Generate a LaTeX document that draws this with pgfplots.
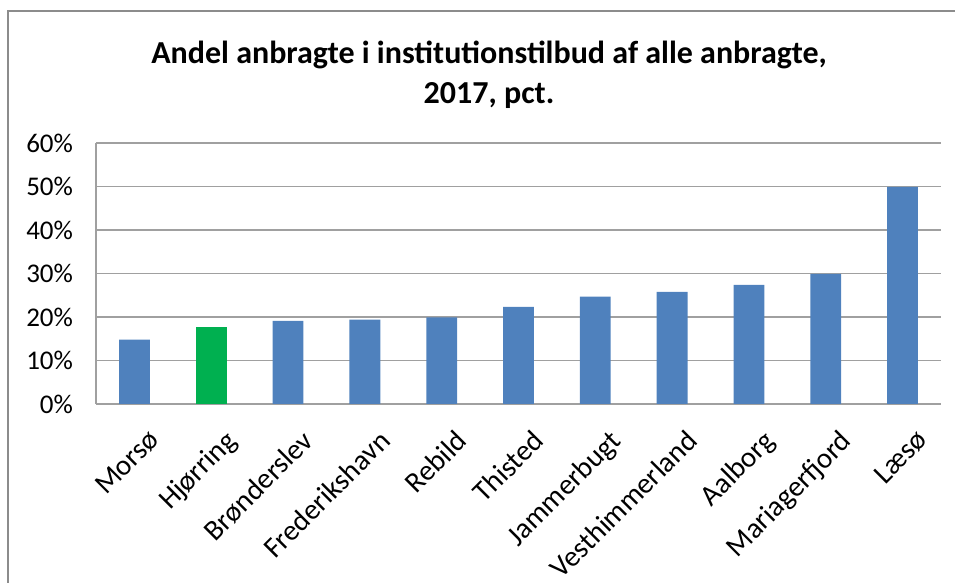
\documentclass[border=0pt]{standalone}
\usepackage{pgfplots}
\pgfplotsset{compat=1.18}
\usepackage{fontspec}
\setmainfont{Carlito}
\definecolor{barblue}{HTML}{4F81BD}
\definecolor{bargreen}{HTML}{00B050}
\definecolor{gridgray}{HTML}{A0A0A0}
\definecolor{framegray}{HTML}{8C8C8C}
\begin{document}
\begin{tikzpicture}
  % canvas 955x583 px at 0.5pt per px
  \path[use as bounding box] (0,0) rectangle (477.5pt,291.5pt);
  \draw[framegray, line width=0.8pt] (4pt,0) -- (4pt,286pt) -- (477.5pt,286pt);
  \begin{axis}[
    at={(48pt,89.5pt)}, anchor=south west,
    scale only axis,
    width=422.5pt, height=130.5pt,
    ybar, bar width=15.4pt,
    xmin=-0.5, xmax=10.5,
    ymin=0, ymax=60,
    ytick={0,10,...,60},
    yticklabel={\pgfmathprintnumber{\tick}\%},
    xtick={0,...,10},
    xticklabels={Morsø,Hjørring,Brønderslev,Frederikshavn,Rebild,Thisted,Jammerbugt,Vesthimmerland,Aalborg,Mariagerfjord,Læsø},
    x tick label style={rotate=45, anchor=north east, font=\fontsize{14.5}{16}\selectfont,
      inner sep=1pt, xshift=-3pt, yshift=-12pt},
    y tick label style={font=\fontsize{13.5}{15}\selectfont, xshift=-8pt},
    /pgf/number format/assume math mode=true,
    major tick length=0pt,
    axis lines*=left,
    axis line style={gridgray, line width=0.8pt},
    ymajorgrids,
    grid style={gridgray, line width=0.8pt},
  ]
    \addplot[fill=barblue, draw=none, bar shift=0pt] coordinates {
      (0,14.8) (2,19.1) (3,19.4) (4,19.9) (5,22.3) (6,24.7)
      (7,25.8) (8,27.4) (9,29.9) (10,49.9)};
    \addplot[fill=bargreen, draw=none, bar shift=0pt] coordinates {(1,17.8)};
  \end{axis}
  \node[align=center, font=\bfseries\fontsize{16}{20}\selectfont] at (244.5pt,254pt)
    {Andel anbragte i institutionstilbud af alle anbragte,\\2017, pct.};
\end{tikzpicture}
\end{document}
